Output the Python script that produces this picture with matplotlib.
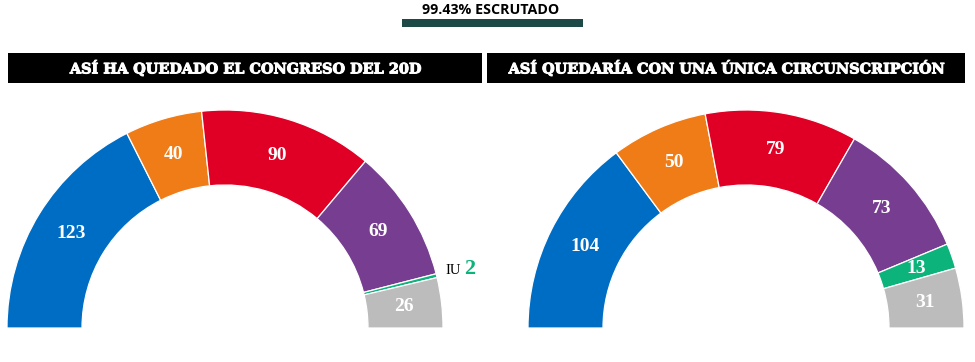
"""Congreso 20D: seats as elected vs. single national constituency."""
import numpy as np
import matplotlib.pyplot as plt
import matplotlib.patheffects as pe

PARTIES = ["PP", "C's", "PSOE", "Podemos", "IU", "Otros"]
COLORS = ["#006dc5", "#f07c18", "#e10025", "#773d91", "#0cb47c", "#bcbcbc"]
SEATS_20D = [123, 40, 90, 69, 2, 26]
SEATS_UNICA = [104, 50, 79, 73, 13, 31]

TITLE_LEFT = "ASÍ HA QUEDADO EL CONGRESO DEL 20D"
TITLE_RIGHT = "ASÍ QUEDARÍA CON UNA ÚNICA CIRCUNSCRIPCIÓN"
HEADER = "99.43% ESCRUTADO"

W, H = 975, 362
R_OUT, R_IN = 218, 143
NUM_FONT = ["Liberation Serif", "DejaVu Serif"]
TITLE_FONT = ["DejaVu Serif"]

fig = plt.figure(figsize=(W / 100, H / 100), dpi=100)
ax = fig.add_axes([0, 0, 1, 1])


def Y(py):
    # pixel row (top origin) -> data y
    return H - py


def half_donut(values, cx, cy, small_label=None):
    total = sum(values)
    wedges, _ = ax.pie(values + [total], colors=COLORS + ["none"],
                       startangle=180, counterclock=False,
                       radius=R_OUT, center=(cx, Y(cy)),
                       wedgeprops=dict(width=R_OUT - R_IN, edgecolor="white",
                                       linewidth=0.9))
    wedges[-1].set_visible(False)
    r_mid = (R_OUT + R_IN) / 2
    cum = 0
    for name, v in zip(PARTIES, values):
        mid = 180 - (cum + v / 2) / (2 * total) * 360
        cum += v
        if name == small_label:
            continue
        a = np.deg2rad(mid)
        ax.text(cx + r_mid * np.cos(a), Y(cy) + r_mid * np.sin(a), str(v),
                ha="center", va="center", color="white", fontsize=14,
                fontweight="bold", family=NUM_FONT)


half_donut(SEATS_20D, 225, 328, small_label="IU")
half_donut(SEATS_UNICA, 746, 328)

# IU callout on the left chart
ax.text(461, Y(270), "IU", ha="right", va="center", fontsize=10.5,
        color="black", family=NUM_FONT)
ax.text(464, Y(269), str(SEATS_20D[4]), ha="left", va="center", fontsize=16,
        color=COLORS[4], fontweight="bold", family=NUM_FONT)

# header
ax.text(491, Y(10), HEADER, ha="center", va="center", fontsize=10.3,
        fontweight="bold", family=["Open Sans", "DejaVu Sans"])
ax.add_patch(plt.Rectangle((402, Y(27)), 181, 8, color="#1d4a46", lw=0))

# title bars
for x0, x1, txt in [(8, 482, TITLE_LEFT), (487, 965, TITLE_RIGHT)]:
    ax.add_patch(plt.Rectangle((x0, Y(83)), x1 - x0, 30, color="black", lw=0))
    ax.text((x0 + x1) / 2, Y(68), txt, ha="center", va="center",
            color="white", fontsize=10.4, fontweight="bold", family=TITLE_FONT,
            path_effects=[pe.withStroke(linewidth=0.7, foreground="white")])

ax.set_xlim(0, W)
ax.set_ylim(0, H)
ax.set_aspect("equal")
ax.axis("off")

fig.savefig("out.png", dpi=100)
